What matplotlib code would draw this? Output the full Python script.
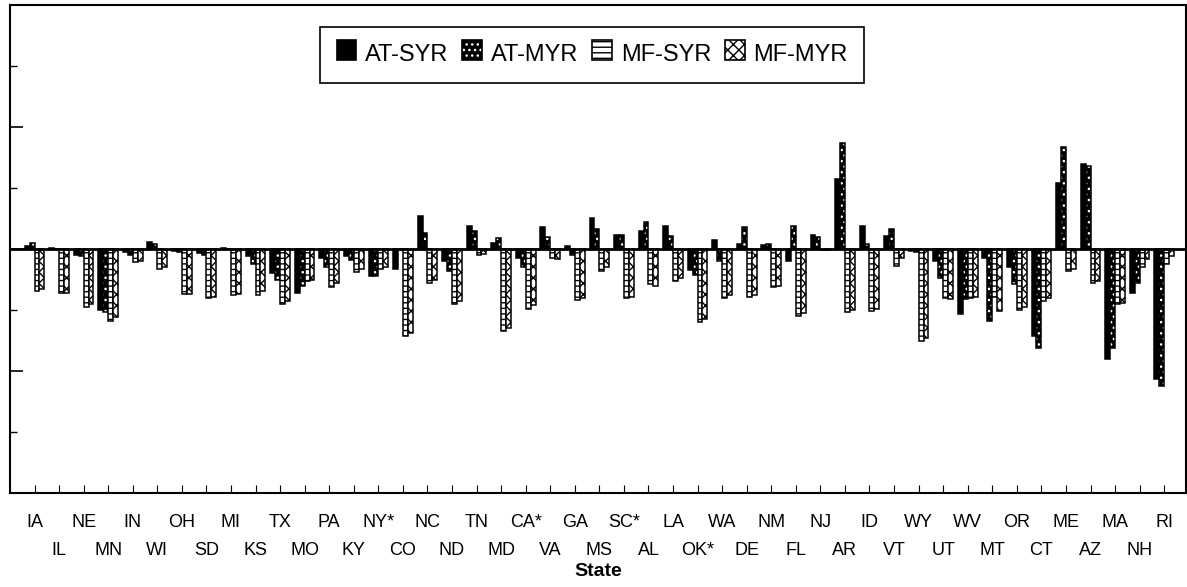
import numpy as np
import matplotlib
matplotlib.use("Agg")
import matplotlib.pyplot as plt
from matplotlib.patches import Patch

plt.rcParams['font.family'] = ['Liberation Sans', 'DejaVu Sans']
plt.rcParams['hatch.linewidth'] = 1.0

states = ["IA", "IL", "NE", "MN", "IN", "WI", "OH", "SD", "MI", "KS", "TX", "MO",
          "PA", "KY", "NY*", "CO", "NC", "ND", "TN", "MD", "CA*", "VA", "GA", "MS",
          "SC*", "AL", "LA", "OK*", "WA", "DE", "NM", "FL", "NJ", "AR", "ID", "VT",
          "WY", "UT", "WV", "MT", "OR", "CT", "ME", "AZ", "MA", "NH", "RI"]

at_syr = [0.05, 0.02, -0.10, -1.00, -0.05, 0.12, -0.03, -0.06, 0.02, -0.12, -0.40, -0.72,
          -0.15, -0.12, -0.44, -0.33, 0.54, -0.20, 0.38, 0.10, -0.15, 0.36, 0.05, 0.51,
          0.23, 0.30, 0.37, -0.35, 0.14, 0.09, 0.06, -0.20, 0.23, 1.14, 0.38, 0.21,
          -0.03, -0.20, -1.06, -0.14, -0.30, -1.43, 1.09, 1.39, -1.80, -0.72, -2.13]
at_myr = [0.10, 0.00, -0.12, -1.04, -0.10, 0.08, -0.05, -0.10, 0.00, -0.25, -0.50, -0.60,
          -0.30, -0.18, -0.44, -0.02, 0.27, -0.36, 0.30, 0.18, -0.30, 0.20, -0.10, 0.33,
          0.23, 0.44, 0.22, -0.42, -0.20, 0.36, 0.09, 0.38, 0.19, 1.73, 0.08, 0.33,
          -0.05, -0.47, -0.82, -1.18, -0.58, -1.62, 1.67, 1.36, -1.62, -0.55, -2.24]
mf_syr = [-0.68, -0.72, -0.95, -1.18, -0.22, -0.33, -0.74, -0.80, -0.76, -0.75, -0.90, -0.52,
          -0.63, -0.37, -0.33, -1.43, -0.55, -0.90, -0.10, -1.34, -0.98, -0.15, -0.84, -0.36,
          -0.80, -0.58, -0.52, -1.20, -0.80, -0.79, -0.63, -1.10, -0.02, -1.04, -1.02, -0.28,
          -1.50, -0.80, -0.80, -0.78, -1.00, -0.85, -0.36, -0.55, -0.90, -0.30, -0.25]
mf_myr = [-0.65, -0.72, -0.90, -1.12, -0.20, -0.30, -0.74, -0.78, -0.74, -0.68, -0.85, -0.50,
          -0.55, -0.33, -0.30, -1.38, -0.50, -0.85, -0.08, -1.30, -0.92, -0.17, -0.80, -0.30,
          -0.78, -0.60, -0.48, -1.15, -0.75, -0.76, -0.60, -1.05, -0.02, -1.00, -0.98, -0.15,
          -1.45, -0.82, -0.78, -1.02, -0.95, -0.80, -0.33, -0.52, -0.88, -0.17, -0.12]

# name, values, face colour, hatch colour, hatch
series = [("AT-SYR", at_syr, "black", "black", None),
          ("AT-MYR", at_myr, "black", "white", "..."),
          ("MF-SYR", mf_syr, "white", "black", "---"),
          ("MF-MYR", mf_myr, "white", "black", "xxx")]

fig = plt.figure(figsize=(11.87, 5.87), dpi=100)
ax = fig.add_axes([0.0084, 0.160, 0.991, 0.8315])

x = np.arange(len(states))
w = 0.2
handles = []
for i, (name, vals, fc, hc, hatch) in enumerate(series):
    pos = x + (i - 1.5) * w
    # fill + hatch first, then a plain outline on top
    ax.bar(pos, vals, width=w, color=fc, edgecolor=hc, hatch=hatch, linewidth=0)
    ax.bar(pos, vals, width=w, fill=False, edgecolor="black", linewidth=1.1)
    handles.append(Patch(facecolor=fc, edgecolor=hc, hatch=hatch, linewidth=0))

ax.axhline(0, color="black", linewidth=2)

ax.set_xlim(-1.0, 46.9)
ax.set_ylim(-4, 4)

# y axis: no labels, inward ticks
ax.set_yticks([-4, -2, 0, 2, 4])
ax.set_yticks([-3, -1, 1, 3], minor=True)
ax.tick_params(axis="y", which="major", direction="in", length=9, width=1.2, labelleft=False)
ax.tick_params(axis="y", which="minor", direction="in", length=5, width=1.0)

# state labels in two staggered rows
ax.set_xticks(x[::2])
ax.set_xticklabels(states[::2], fontsize=13)
ax.set_xticks(x[1::2], minor=True)
ax.set_xticklabels(states[1::2], minor=True, fontsize=13)
ax.tick_params(axis="x", which="major", direction="in", length=6, width=0.8, pad=15)
ax.tick_params(axis="x", which="minor", direction="in", length=6, width=0.8, pad=35)

ax.set_xlabel("State", fontsize=14, fontweight="bold", labelpad=3)

for sp in ax.spines.values():
    sp.set_linewidth(1.5)

# legend patches with black outline
from matplotlib.legend_handler import HandlerBase
from matplotlib.patches import Rectangle


class BoxHandler(HandlerBase):
    def create_artists(self, legend, orig, xd, yd, width, height, fontsize, trans):
        s = min(width, height)
        r1 = Rectangle((xd, yd), s, s, facecolor=orig.get_facecolor(),
                       edgecolor=orig.get_edgecolor(), hatch=orig.get_hatch(),
                       linewidth=0, transform=trans)
        r2 = Rectangle((xd, yd), s, s, fill=False, edgecolor="black",
                       linewidth=1.2, transform=trans)
        return [r1, r2]


leg = ax.legend(handles, [s[0] for s in series], loc="upper center",
                bbox_to_anchor=(0.495, 0.955), borderaxespad=0, ncol=4,
                fontsize=17, frameon=True, fancybox=False, framealpha=1,
                edgecolor="black", handlelength=0.9, handleheight=0.9,
                handletextpad=0.3, columnspacing=0.6, borderpad=0.7,
                handler_map={Patch: BoxHandler()})
leg.get_frame().set_linewidth(1.2)

fig.savefig("out.png", dpi=100)
